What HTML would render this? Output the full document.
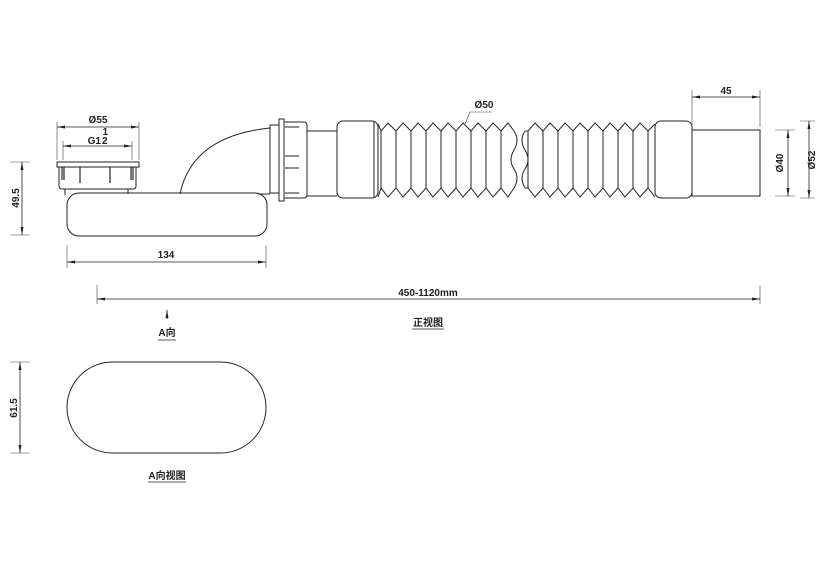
<!DOCTYPE html>
<html><head><meta charset="utf-8"><style>
body{margin:0;background:#fff}
svg{display:block}
text{font-family:"Liberation Sans","Noto Sans CJK SC",sans-serif;font-weight:bold;font-size:10px;fill:#222}
</style></head><body>
<svg width="837" height="580" viewBox="0 0 837 580" xmlns="http://www.w3.org/2000/svg">
<defs>
<marker id="a" markerWidth="8" markerHeight="6" refX="8" refY="3" orient="auto-start-reverse" markerUnits="userSpaceOnUse"><path d="M0,1.5 L8,3 L0,4.5Z" fill="#222"/></marker>
</defs>
<g fill="none" stroke="#222" stroke-width="1">
<rect x="57" y="162" width="82" height="5" fill="#fff"/>
<path d="M59,167 V186 Q59,189 62,189 H133 Q136,189 136,186 V167"/>
<g stroke-width="1.2"><path d="M62,167V180 M64,167V180 M80,167V183 M110,167V183 M131,167V180 M133,167V180"/></g>
<path d="M65,189 V195 M128,189 V194"/>
<rect x="67" y="193" width="200" height="43" rx="12"/>
<path d="M180,194 Q192,136 270,128"/>
<path d="M258,194 H270"/>
<rect x="270" y="125" width="9" height="68" fill="#fff"/>
<rect x="279" y="119" width="5" height="82" fill="#fff"/>
<path d="M284,122 H304 Q307,122 307,126 V194 Q307,198 304,198 H284"/>
<path d="M285,127 H299 M285,156 H299 M285,168 H299 M285,193 H299"/>
<path d="M307,131 H337 M307,196 H337"/>
<rect x="337" y="121" width="41" height="77" rx="6"/>
<path d="M374,121 V198"/>
<path d="M378,124 L381,131 L388,123 L396,131 L403,123 L411,131 L418,123 L426,131 L433,123 L441,131 L448,123 L456,131 L463,123 L471,131 L478,123 L486,131 L493,123 L501,131 L508,123 L514,131"/>
<path d="M378,197 L381,188 L388,197 L396,188 L403,197 L411,188 L418,197 L426,188 L433,197 L441,188 L448,197 L456,188 L463,197 L471,188 L478,197 L486,188 L493,197 L501,188 L508,197 L514,188"/>
<path d="M381,131V188 M396,131V188 M411,131V188 M426,131V188 M441,131V188 M456,131V188 M471,131V188 M486,131V188 M501,131V188"/>
<path d="M514,131 Q520,140 514,150 Q508,160 514,169 Q520,178 514,188"/>
<path d="M525,131 Q519,140 525,150 Q531,160 525,169 Q519,178 525,188"/>
<path d="M525,131 L528,131 L535,123 L543,131 L550,123 L558,131 L565,123 L573,131 L580,123 L588,131 L595,123 L603,131 L610,123 L618,131 L625,123 L633,131 L640,123 L648,131 L655,124"/>
<path d="M525,188 L528,188 L535,197 L543,188 L550,197 L558,188 L565,197 L573,188 L580,197 L588,188 L595,197 L603,188 L610,197 L618,188 L625,197 L633,188 L640,197 L648,188 L655,197"/>
<path d="M528,131V188 M543,131V188 M558,131V188 M573,131V188 M588,131V188 M603,131V188 M618,131V188 M633,131V188 M648,131V188"/>
<rect x="655" y="121" width="37" height="77" rx="6"/>
<rect x="692" y="130" width="68" height="66"/>
<rect x="67" y="362" width="199" height="91" rx="45.5"/>
</g>
<g fill="none" stroke="#444" stroke-width="0.6">
<path d="M57,122V160 M139,122V160 M63,141V160 M132,141V160"/>
<path d="M10,162H30 M10,235H30"/>
<path d="M67,245V268 M266,245V268"/>
<path d="M97,285V304 M760,285V304"/>
<path d="M692,90V127 M760,90V127"/>
<path d="M775,130H795 M775,196H795 M800,121H815 M800,198H815"/>
<path d="M10,362H30 M10,453H30"/>
<path d="M465,124 L470,112 H492"/>
</g>
<g stroke="#222" stroke-width="0.8" marker-start="url(#a)" marker-end="url(#a)">
<line x1="57" y1="127" x2="139" y2="127"/>
<line x1="63" y1="146" x2="132" y2="146"/>
<line x1="22" y1="162" x2="22" y2="235"/>
<line x1="67" y1="262" x2="266" y2="262"/>
<line x1="97" y1="299" x2="760" y2="299"/>
<line x1="692" y1="97" x2="760" y2="97"/>
<line x1="788" y1="130" x2="788" y2="196"/>
<line x1="809" y1="121" x2="809" y2="198"/>
<line x1="20" y1="362" x2="20" y2="453"/>
</g>
<line x1="167" y1="319" x2="167" y2="310" stroke="#222" stroke-width="0.8" marker-end="url(#a)"/>
<text x="98" y="123" text-anchor="middle">Ø55</text>
<text x="101" y="144" text-anchor="end">G1</text>
<text x="102.5" y="135" font-size="6.5">1</text>
<text x="102" y="144" font-size="6.5">2</text>
<text x="166" y="258" text-anchor="middle">134</text>
<text x="428" y="296" text-anchor="middle">450-1120mm</text>
<text x="484" y="108" text-anchor="middle">Ø50</text>
<text x="726" y="94" text-anchor="middle">45</text>
<text transform="translate(19,198) rotate(-90)" text-anchor="middle">49.5</text>
<text transform="translate(783,163) rotate(-90)" text-anchor="middle">Ø40</text>
<text transform="translate(815,160) rotate(-90)" text-anchor="middle">Ø52</text>
<text transform="translate(17,408) rotate(-90)" text-anchor="middle">61.5</text>
<text x="167" y="336" text-anchor="middle">A向</text>
<line x1="158" y1="340" x2="176" y2="340" stroke="#222" stroke-width="0.8"/>
<text x="428" y="326" text-anchor="middle">正视图</text>
<line x1="412" y1="329" x2="444" y2="329" stroke="#222" stroke-width="0.8"/>
<text x="167" y="479" text-anchor="middle">A向视图</text>
<line x1="148" y1="482" x2="186" y2="482" stroke="#222" stroke-width="0.8"/>
</svg>
</body></html>
